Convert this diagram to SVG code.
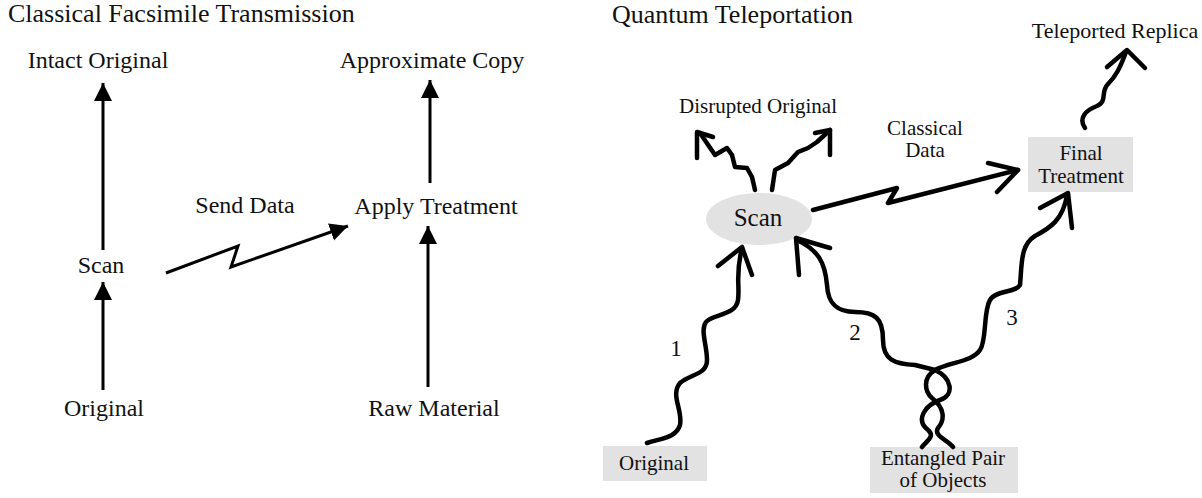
<svg xmlns="http://www.w3.org/2000/svg" width="1202" height="498" viewBox="0 0 1202 498">
<style>
text{font-family:"Liberation Serif","Times New Roman",serif;fill:#111}
.title{font-size:26px}
.lbl{font-size:24px;text-anchor:middle}
.sm{font-size:21px;text-anchor:middle}
.num{font-size:23px;text-anchor:middle}
.line{stroke:#000;stroke-width:3;fill:none}
.wig{stroke:#000;stroke-width:4.5;fill:none;stroke-linejoin:round;stroke-linecap:round}
.box{fill:#e2e2e2}
</style>
<defs>
<marker id="tri" markerUnits="userSpaceOnUse" markerWidth="20" markerHeight="20" refX="18" refY="9" orient="auto">
<path d="M0,0 L18,9 L0,18 z" fill="#000"/>
</marker>
</defs>
<rect width="1202" height="498" fill="#fff"/>
<text class="title" x="8" y="22">Classical Facsimile Transmission</text>
<text class="title" x="612" y="23">Quantum Teleportation</text>

<g id="intact"><text class="lbl" x="98" y="68">Intact Original</text></g>
<g id="scanL"><text class="lbl" x="101" y="273">Scan</text></g>
<g id="originalL"><text class="lbl" x="104" y="416">Original</text></g>
<g id="approx"><text class="lbl" x="432" y="68">Approximate Copy</text></g>
<g id="apply"><text class="lbl" x="436" y="214">Apply Treatment</text></g>
<g id="raw"><text class="lbl" x="434" y="416">Raw Material</text></g>
<g id="sendLabel"><text class="lbl" x="245" y="213">Send Data</text></g>

<g id="scanR"><ellipse cx="759" cy="219" rx="53" ry="26" fill="#e2e2e2"/><text class="lbl" x="758" y="226" style="font-size:25px">Scan</text></g>
<g id="final"><rect class="box" x="1028" y="137" width="105" height="55"/><text class="sm" x="1081" y="160">Final</text><text class="sm" x="1081" y="183">Treatment</text></g>
<g id="originalR"><rect class="box" x="603" y="446" width="104" height="35"/><text class="sm" x="654" y="470">Original</text></g>
<g id="entangled"><rect class="box" x="870" y="447" width="148" height="46"/><text class="sm" x="943" y="465">Entangled Pair</text><text class="sm" x="943" y="487">of Objects</text></g>
<g id="disrupted"><text class="sm" x="758" y="113">Disrupted Original</text></g>
<g id="replica"><text class="sm" x="1115" y="38" style="font-size:22px">Teleported Replica</text></g>
<g id="classical"><text class="sm" x="925" y="135">Classical</text><text class="sm" x="925" y="157">Data</text></g>
<g id="nums"><text class="num" x="676" y="356">1</text><text class="num" x="855" y="340">2</text><text class="num" x="1012" y="325">3</text></g>

<g id="connectors">
<line class="line" x1="103" y1="250" x2="103" y2="83" marker-end="url(#tri)"/>
<line class="line" x1="103" y1="390" x2="103" y2="282" marker-end="url(#tri)"/>
<line class="line" x1="430" y1="183" x2="430" y2="80" marker-end="url(#tri)"/>
<line class="line" x1="428" y1="387" x2="428" y2="226" marker-end="url(#tri)"/>
<path class="line" d="M166,273 L238,246 L231,267 L348,226" marker-end="url(#tri)"/>

<path class="wig" d="M813,210 L897,188 L888,203 L1018,170"/>
<path class="wig" d="M988,163 L1018,170 L997,192"/>

<path class="wig" d="M755,190 L752,177 L747,168 L735,167 L732,155 L727,148 L715,155 L700,133"/>
<path class="wig" d="M697,158 L697,132 L713,137"/>
<path class="wig" d="M772,190 L775,170 L788,163 L798,152 L808,148 L817,142 L830,130"/>
<path class="wig" d="M815,133 L830,130 L830,155"/>

<path class="wig" d="M1085,128 C1078,118 1086,110 1097,106 C1108,101 1100,92 1108,84 C1116,76 1120,68 1126,52"/>
<path class="wig" d="M1107,67 L1127,50 L1145,68"/>

<path class="wig" d="M647,443 C662,438 676,438 680,425 C683,410 670,395 680,383 C690,374 707,375 707,360 C707,345 700,330 706,322 C712,314 736,316 738,300 C740,285 735,275 742,248"/>
<path class="wig" d="M718,266 L742,247 L752,275"/>

<path class="wig" d="M797,240 C818,250 825,262 827,285 C828,305 838,312 855,312 C875,312 883,318 883,340 C883,360 895,364 915,365 L935,370 C952,378 955,395 940,400 C925,405 915,420 928,430 C935,436 928,440 922,447"/>
<path class="wig" d="M799,275 L796,238 L830,248"/>

<path class="wig" d="M1067,195 C1063,220 1050,228 1035,236 C1020,245 1022,265 1020,285 C1015,293 996,290 990,300 C983,312 987,340 980,350 C972,362 950,362 935,370 C922,378 925,392 932,398 C945,408 945,420 938,428 C933,436 948,440 953,447"/>
<path class="wig" d="M1040,208 L1068,193 L1072,228"/>
</g>
</svg>
